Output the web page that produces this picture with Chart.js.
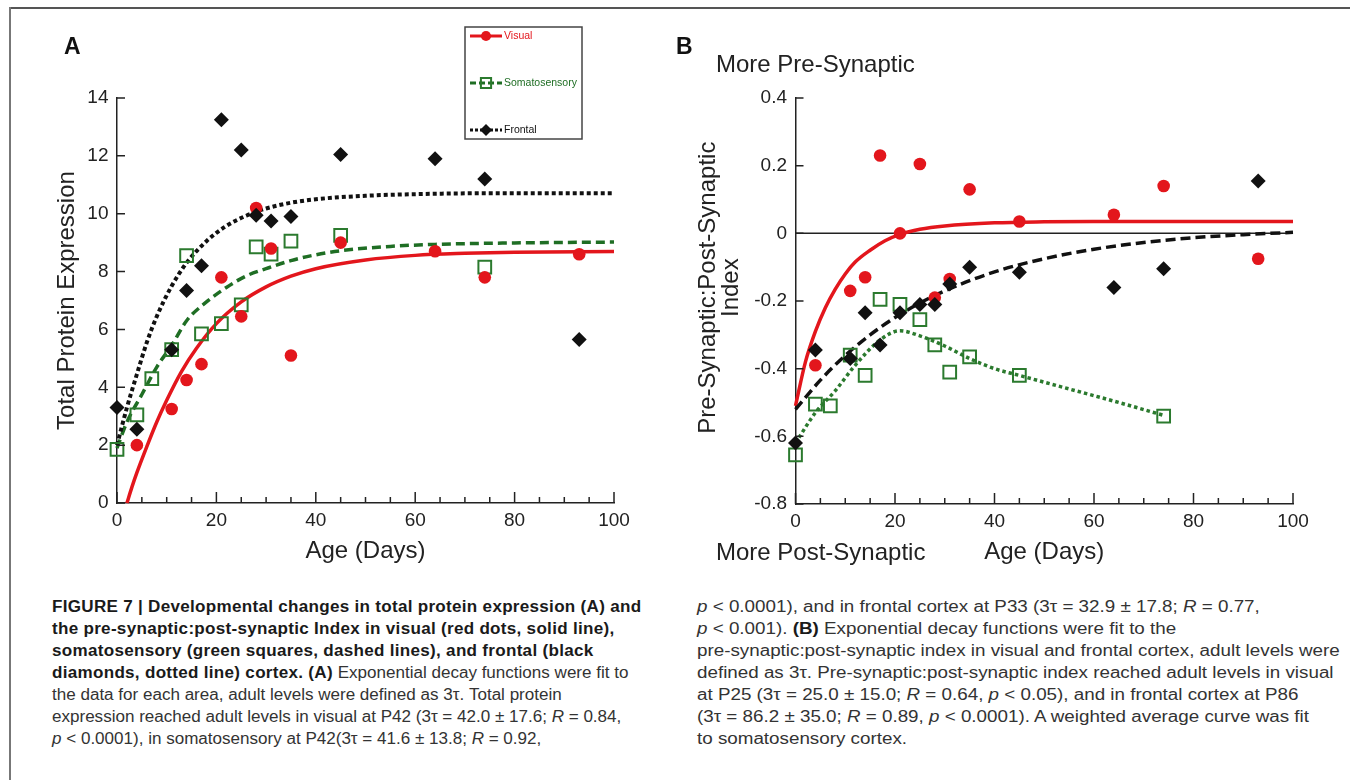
<!DOCTYPE html>
<html>
<head>
<meta charset="utf-8">
<script src="https://cdn.jsdelivr.net/npm/chart.js@4.4.1/dist/chart.umd.min.js"></script>
<style>
body { margin:0; background:#fff; width:1350px; height:780px; overflow:hidden; position:relative; font-family:"Liberation Sans", Arial, sans-serif; }
#frameTop { position:absolute; left:9px; top:7px; width:1341px; height:2px; background:#555; }
#frameLeft { position:absolute; left:9px; top:7px; width:2px; height:773px; background:#777; }
.wrap { position:absolute; top:0; width:675px; height:580px; }
.panel { position:absolute; font-weight:bold; font-size:23px; color:#111; line-height:1; }
.note { position:absolute; font-size:24px; color:#222; line-height:1; white-space:nowrap; }
.cap { position:absolute; top:596px; font-size:16px; line-height:22px; color:#333; white-space:nowrap; transform-origin:0 0; }
.cap b { color:#1a1a1a; }
#capLeft { left:52px; transform:scaleX(1.065); }
#capLeft b { letter-spacing:0.28px; }
#capRight { left:697px; transform:scaleX(1.175); }
</style>
</head>
<body>
<div id="frameTop"></div>
<div id="frameLeft"></div>

<div class="wrap" style="left:0"><canvas id="chartA" width="675" height="580"></canvas></div>
<div class="wrap" style="left:675px"><canvas id="chartB" width="675" height="580"></canvas></div>

<div class="panel" style="left:64px; top:35px">A</div>
<div class="panel" style="left:676px; top:35px">B</div>
<div class="note" style="left:716px; top:52px">More Pre-Synaptic</div>
<div class="note" style="left:716px; top:540px">More Post-Synaptic</div>

<div class="cap" id="capLeft">
<b>FIGURE 7 | Developmental changes in total protein expression (A) and</b><br>
<b>the pre-synaptic:post-synaptic Index in visual (red dots, solid line),</b><br>
<b>somatosensory (green squares, dashed lines), and frontal (black</b><br>
<b>diamonds, dotted line) cortex. (A)</b> Exponential decay functions were fit to<br>
the data for each area, adult levels were defined as 3τ. Total protein<br>
expression reached adult levels in visual at P42 (3τ = 42.0 ± 17.6; <i>R</i> = 0.84,<br>
<i>p</i> &lt; 0.0001), in somatosensory at P42(3τ = 41.6 ± 13.8; <i>R</i> = 0.92,
</div>
<div class="cap" id="capRight">
<i>p</i> &lt; 0.0001), and in frontal cortex at P33 (3τ = 32.9 ± 17.8; <i>R</i> = 0.77,<br>
<i>p</i> &lt; 0.001). <b>(B)</b> Exponential decay functions were fit to the<br>
pre-synaptic:post-synaptic index in visual and frontal cortex, adult levels were<br>
defined as 3τ. Pre-synaptic:post-synaptic index reached adult levels in visual<br>
at P25 (3τ = 25.0 ± 15.0; <i>R</i> = 0.64, <i>p</i> &lt; 0.05), and in frontal cortex at P86<br>
(3τ = 86.2 ± 35.0; <i>R</i> = 0.89, <i>p</i> &lt; 0.0001). A weighted average curve was fit<br>
to somatosensory cortex.
</div>

<script>
// ===============================
// Data
// ===============================

// Panel A - total protein expression
const visualAgeA = [4, 11, 14, 17, 21, 25, 28, 31, 35, 45, 64, 74, 93];
const visualA = [2.0, 3.25, 4.25, 4.8, 7.8, 6.45, 10.2, 8.8, 5.1, 9.0, 8.7, 7.8, 8.6];

const somaAgeA = [0, 4, 7, 11, 14, 17, 21, 25, 28, 31, 35, 45, 74];
const somaA = [1.85, 3.05, 4.3, 5.3, 8.55, 5.85, 6.2, 6.85, 8.85, 8.6, 9.05, 9.25, 8.15];

const frontalAgeA = [0, 4, 11, 14, 17, 21, 25, 28, 31, 35, 45, 64, 74, 93];
const frontalA = [3.3, 2.55, 5.3, 7.35, 8.2, 13.25, 12.2, 9.95, 9.75, 9.9, 12.05, 11.9, 11.2, 5.65];

// fitted curves
const visualFitAgeA = [2, 3, 4, 6, 8, 10, 13, 16, 20, 25, 30, 35, 40, 50, 60, 70, 80, 100];
const visualFitA = [0, 0.55, 1.05, 1.95, 2.8, 3.55, 4.55, 5.35, 6.2, 6.95, 7.47, 7.84, 8.1, 8.4, 8.56, 8.63, 8.67, 8.69];

const somaFitAgeA = [0, 2, 5, 8, 11, 14, 18, 22, 26, 30, 35, 40, 45, 55, 64, 80, 100];
const somaFitA = [1.9, 2.8, 3.75, 4.7, 5.45, 6.3, 6.95, 7.45, 7.85, 8.1, 8.38, 8.58, 8.72, 8.87, 8.94, 8.99, 9.02];

const frontalFitAgeA = [0, 2, 4, 6, 8, 11, 14, 18, 22, 26, 30, 35, 40, 50, 64, 80, 100];
const frontalFitA = [2.0, 3.3, 4.45, 5.55, 6.45, 7.5, 8.3, 9.05, 9.58, 9.93, 10.18, 10.38, 10.5, 10.62, 10.69, 10.71, 10.71];

// Panel B - pre-synaptic:post-synaptic index
const visualAgeB = [4, 11, 14, 17, 21, 25, 28, 31, 35, 45, 64, 74, 93];
const visualB = [-0.39, -0.17, -0.13, 0.23, 0.0, 0.205, -0.19, -0.135, 0.13, 0.035, 0.055, 0.14, -0.075];

const somaAgeB = [0, 4, 7, 11, 14, 17, 21, 25, 28, 31, 35, 45, 74];
const somaB = [-0.655, -0.505, -0.51, -0.36, -0.42, -0.195, -0.21, -0.255, -0.33, -0.41, -0.365, -0.42, -0.54];

const frontalAgeB = [0, 4, 11, 14, 17, 21, 25, 28, 31, 35, 45, 64, 74, 93];
const frontalB = [-0.62, -0.345, -0.37, -0.235, -0.33, -0.235, -0.21, -0.21, -0.15, -0.10, -0.115, -0.16, -0.105, 0.155];

const visualFitAgeB = [0, 2, 4, 6, 8, 10, 12, 15, 18, 21, 25, 30, 40, 50, 60, 80, 100];
const visualFitB = [-0.51, -0.38, -0.29, -0.22, -0.165, -0.12, -0.085, -0.05, -0.022, -0.003, 0.012, 0.022, 0.031, 0.034, 0.035, 0.035, 0.035];

const frontalFitAgeB = [0, 5, 10, 15, 20, 25, 30, 40, 50, 60, 70, 80, 90, 100];
const frontalFitB = [-0.52, -0.434, -0.361, -0.30, -0.249, -0.206, -0.17, -0.114, -0.075, -0.047, -0.027, -0.013, -0.004, 0.003];

const somaFitAgeB = [0, 4, 8, 12, 17, 21, 25, 30, 35, 40, 45, 55, 65, 74];
const somaFitB = [-0.62, -0.53, -0.465, -0.39, -0.315, -0.288, -0.303, -0.333, -0.37, -0.40, -0.42, -0.46, -0.50, -0.538];

// ticks
const ageTicks = [0, 20, 40, 60, 80, 100];
const yTicksA = [0, 2, 4, 6, 8, 10, 12, 14];
const yTicksB = [-0.8, -0.6, -0.4, -0.2, 0, 0.2, 0.4];
const yLabelsB = ["-0.8", "-0.6", "-0.4", "-0.2", "0", "0.2", "0.4"];

// ===============================
// Styles
// ===============================

const RED = "#e3161c";
const GREEN = "#1f6e24";
const GREEN_DOT = "#2b7a2e";
const BLACK = "#111111";
const FONT = "'Liberation Sans', Arial, sans-serif";

function pts(xs, ys) {
    return xs.map((x, i) => ({ x: x, y: ys[i] }));
}

function markers(label, xs, ys, style, order) {
    const base = { label: label, data: pts(xs, ys), showLine: false, clip: false, order: order };
    if (style === "circle") {
        return Object.assign(base, { pointStyle: "circle", pointRadius: 6.3, backgroundColor: RED, borderColor: RED, borderWidth: 0 });
    }
    if (style === "rect") {
        return Object.assign(base, { pointStyle: "rect", pointRadius: 9, backgroundColor: "rgba(255,255,255,0)", borderColor: GREEN_DOT, borderWidth: 2 });
    }
    return Object.assign(base, { pointStyle: "rectRot", pointRadius: 7.5, backgroundColor: BLACK, borderColor: BLACK, borderWidth: 0 });
}

function curve(xs, ys, color, dash, width, order) {
    return {
        data: pts(xs, ys),
        showLine: true,
        pointRadius: 0,
        borderColor: color,
        borderWidth: width,
        borderDash: dash,
        borderCapStyle: "butt",
        cubicInterpolationMode: "monotone",
        clip: false,
        order: order
    };
}

// inward tick marks, like the original figure
const innerTicks = {
    id: "innerTicks",
    afterDraw(chart, args, opts) {
        const ctx = chart.ctx;
        const x = chart.scales.x;
        const y = chart.scales.y;
        ctx.save();
        ctx.strokeStyle = "#222";
        ctx.lineWidth = 1.5;
        ctx.beginPath();
        for (let v = 0; v <= 100; v += 5) {
            const px = x.getPixelForValue(v);
            const len = v % 20 === 0 ? 11 : 6;
            ctx.moveTo(px, y.bottom);
            ctx.lineTo(px, y.bottom - len);
        }
        opts.yTicks.forEach(v => {
            const py = y.getPixelForValue(v);
            ctx.moveTo(x.left, py);
            ctx.lineTo(x.left + 8, py);
        });
        ctx.stroke();
        ctx.restore();
    }
};

// horizontal zero line in panel B
const zeroLine = {
    id: "zeroLine",
    beforeDatasetsDraw(chart, args, opts) {
        if (!opts.show) return;
        const ctx = chart.ctx;
        const x = chart.scales.x;
        const py = chart.scales.y.getPixelForValue(0);
        ctx.save();
        ctx.strokeStyle = "#222";
        ctx.lineWidth = 1.5;
        ctx.beginPath();
        ctx.moveTo(x.getPixelForValue(0), py);
        ctx.lineTo(x.getPixelForValue(100), py);
        ctx.stroke();
        ctx.restore();
    }
};

// boxed legend of panel A
const boxLegend = {
    id: "boxLegend",
    afterDraw(chart, args, opts) {
        if (!opts.items) return;
        const ctx = chart.ctx;
        ctx.save();
        ctx.strokeStyle = "#444";
        ctx.lineWidth = 1.5;
        ctx.strokeRect(465, 27, 117, 112);
        opts.items.forEach((it, i) => {
            const cy = 36 + i * 47;
            ctx.setLineDash(it.dash);
            ctx.strokeStyle = it.color;
            ctx.lineWidth = 3;
            ctx.beginPath();
            ctx.moveTo(470, cy);
            ctx.lineTo(502, cy);
            ctx.stroke();
            ctx.setLineDash([]);

            const ds = chart.data.datasets[it.ds];
            ctx.fillStyle = ds.backgroundColor;
            ctx.strokeStyle = ds.borderColor;
            ctx.lineWidth = ds.borderWidth;
            Chart.helpers.drawPoint(ctx, {
                pointStyle: ds.pointStyle,
                radius: ds.pointRadius * 0.8,
                rotation: 0,
                borderWidth: ds.borderWidth
            }, 486, cy);

            ctx.fillStyle = it.color;
            ctx.font = "10.5px " + FONT;
            ctx.textBaseline = "middle";
            ctx.fillText(it.label, 504, cy);
        });
        ctx.restore();
    }
};

Chart.register(innerTicks, zeroLine, boxLegend);

function options(cfg) {
    return {
        responsive: false,
        animation: false,
        events: [],
        layout: { padding: cfg.padding },
        plugins: {
            legend: { display: false },
            tooltip: { enabled: false },
            innerTicks: { yTicks: cfg.yTicks },
            zeroLine: { show: cfg.zero },
            boxLegend: { items: cfg.legend }
        },
        scales: {
            x: {
                type: "linear",
                min: 0,
                max: 100,
                afterBuildTicks: s => { s.ticks = ageTicks.map(v => ({ value: v })); },
                afterFit: s => { s.height = cfg.xHeight; },
                grid: { display: false, drawTicks: false },
                border: { display: true, color: "#222", width: 1.5 },
                ticks: { padding: 6, color: "#222", font: { family: FONT, size: 19 } },
                title: {
                    display: true,
                    text: "Age (Days)",
                    color: "#222",
                    font: { family: FONT, size: 24, lineHeight: 1.2 },
                    padding: { top: 0, bottom: cfg.xTitlePad }
                }
            },
            y: {
                type: "linear",
                min: cfg.yMin,
                max: cfg.yMax,
                afterBuildTicks: s => { s.ticks = cfg.yTicks.map(v => ({ value: v })); },
                afterFit: s => { s.width = cfg.yWidth; },
                grid: { display: false, drawTicks: false },
                border: { display: true, color: "#222", width: 1.5 },
                ticks: {
                    padding: 8.5,
                    color: "#222",
                    font: { family: FONT, size: 19 },
                    callback: (v, i) => cfg.yLabels[i]
                },
                title: {
                    display: true,
                    text: cfg.yTitle,
                    color: "#222",
                    font: { family: FONT, size: 24, lineHeight: cfg.yTitleLH },
                    padding: { top: 4, bottom: 0 }
                }
            }
        }
    };
}

// ===============================
// Panel A
// ===============================

new Chart(document.getElementById("chartA"), {
    type: "scatter",
    data: {
        datasets: [
            markers("Visual", visualAgeA, visualA, "circle", 1),
            markers("Somatosensory", somaAgeA, somaA, "rect", 2),
            markers("Frontal", frontalAgeA, frontalA, "diamond", 0),
            curve(visualFitAgeA, visualFitA, RED, [], 3.5, 5),
            curve(somaFitAgeA, somaFitA, GREEN, [9, 5], 3.5, 4),
            curve(frontalFitAgeA, frontalFitA, BLACK, [4, 3], 4, 3)
        ]
    },
    options: options({
        padding: { left: 49, top: 98, right: 61, bottom: 0 },
        yWidth: 68,
        xHeight: 77,
        xTitlePad: 14.6,
        yMin: 0,
        yMax: 14,
        yTicks: yTicksA,
        yLabels: yTicksA.map(String),
        yTitle: "Total Protein Expression",
        yTitleLH: 1.2,
        zero: false,
        legend: [
            { ds: 0, label: "Visual", color: RED, dash: [] },
            { ds: 1, label: "Somatosensory", color: GREEN, dash: [6, 3] },
            { ds: 2, label: "Frontal", color: BLACK, dash: [3, 2] }
        ]
    })
});

// ===============================
// Panel B
// ===============================

new Chart(document.getElementById("chartB"), {
    type: "scatter",
    data: {
        datasets: [
            markers("Visual", visualAgeB, visualB, "circle", 1),
            markers("Somatosensory", somaAgeB, somaB, "rect", 2),
            markers("Frontal", frontalAgeB, frontalB, "diamond", 0),
            curve(visualFitAgeB, visualFitB, RED, [], 3.5, 5),
            curve(frontalFitAgeB, frontalFitB, BLACK, [10, 5], 3.5, 4),
            curve(somaFitAgeB, somaFitB, GREEN_DOT, [3.5, 3], 3.5, 3)
        ]
    },
    options: options({
        padding: { left: 18, top: 98, right: 57, bottom: 0 },
        yWidth: 102.5,
        xHeight: 76,
        xTitlePad: 13.6,
        yMin: -0.8,
        yMax: 0.4,
        yTicks: yTicksB,
        yLabels: yLabelsB,
        // leading spaces lift the title a little, as in the figure
        yTitle: ["    Pre-Synaptic:Post-Synaptic", "    Index"],
        yTitleLH: 0.96,
        zero: true,
        legend: null
    })
});
</script>
</body>
</html>
